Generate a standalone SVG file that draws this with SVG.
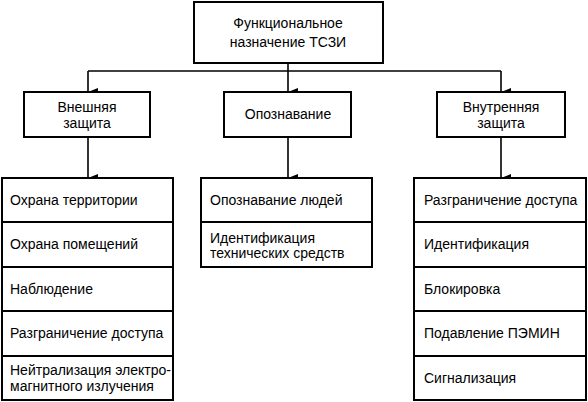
<svg xmlns="http://www.w3.org/2000/svg" width="588" height="402" viewBox="0 0 588 402">
<defs>
<marker id="ah" markerWidth="8" markerHeight="10" refX="4" refY="10" orient="auto-start-reverse" markerUnits="userSpaceOnUse" viewBox="0 0 8 10">
<path d="M0,0 L8,0 L4,10 Z" fill="#000"/>
</marker>
</defs>
<style>
rect{fill:#fff;stroke:#000;stroke-width:2}
line.d{stroke:#000;stroke-width:2}
.c{stroke:#000;stroke-width:1.6;fill:none}
text{font-family:"Liberation Sans",Arial,sans-serif;font-size:14px;fill:#000}
.m{text-anchor:middle}
</style>
<g id="connectors">
<line class="c" x1="288" y1="63" x2="288" y2="71"/>
<line class="c" x1="88" y1="71" x2="501" y2="71"/>
<line class="c" x1="88" y1="71" x2="88" y2="92" marker-end="url(#ah)"/>
<line class="c" x1="288" y1="71" x2="288" y2="92" marker-end="url(#ah)"/>
<line class="c" x1="501" y1="71" x2="501" y2="92" marker-end="url(#ah)"/>
<line class="c" x1="88" y1="137" x2="88" y2="178" marker-end="url(#ah)"/>
<line class="c" x1="288" y1="137" x2="288" y2="178" marker-end="url(#ah)"/>
<line class="c" x1="501" y1="137" x2="501" y2="178" marker-end="url(#ah)"/>
</g>
<g id="root">
<rect x="194" y="2" width="189" height="61"/>
<text class="m" x="288" y="28">Функциональное</text>
<text class="m" x="288" y="47">назначение ТСЗИ</text>
</g>
<g id="external">
<rect x="24" y="92" width="126" height="45"/>
<text class="m" x="87" y="112">Внешняя</text>
<text class="m" x="87" y="128">защита</text>
</g>
<g id="identification">
<rect x="224" y="92" width="127" height="45"/>
<text class="m" x="288" y="119">Опознавание</text>
</g>
<g id="internal">
<rect x="437" y="92" width="128" height="45"/>
<text class="m" x="501" y="112">Внутренняя</text>
<text class="m" x="501" y="128">защита</text>
</g>
<g id="list-external">
<rect x="2" y="178" width="171" height="222"/>
<line class="d" x1="2" y1="222" x2="173" y2="222"/>
<line class="d" x1="2" y1="267" x2="173" y2="267"/>
<line class="d" x1="2" y1="311" x2="173" y2="311"/>
<line class="d" x1="2" y1="356" x2="173" y2="356"/>
<text x="10" y="205">Охрана территории</text>
<text x="10" y="249">Охрана помещений</text>
<text x="10" y="294">Наблюдение</text>
<text x="10" y="338">Разграничение доступа</text>
<text x="10" y="375">Нейтрализация электро-</text>
<text x="10" y="391">магнитного излучения</text>
</g>
<g id="list-identification">
<rect x="201" y="178" width="171" height="89"/>
<line class="d" x1="201" y1="222" x2="372" y2="222"/>
<text x="210" y="205">Опознавание людей</text>
<text x="210" y="243">Идентификация</text>
<text x="210" y="258">технических средств</text>
</g>
<g id="list-internal">
<rect x="414" y="178" width="172" height="222"/>
<line class="d" x1="414" y1="222" x2="586" y2="222"/>
<line class="d" x1="414" y1="267" x2="586" y2="267"/>
<line class="d" x1="414" y1="311" x2="586" y2="311"/>
<line class="d" x1="414" y1="356" x2="586" y2="356"/>
<text x="424" y="205">Разграничение доступа</text>
<text x="424" y="249">Идентификация</text>
<text x="424" y="294">Блокировка</text>
<text x="424" y="338">Подавление ПЭМИН</text>
<text x="424" y="383">Сигнализация</text>
</g>
</svg>
